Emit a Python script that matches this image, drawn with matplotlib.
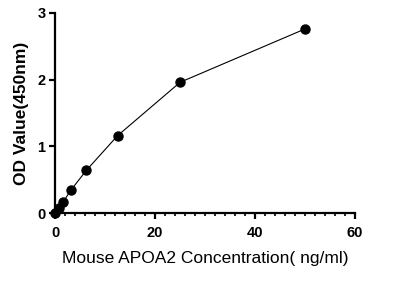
import matplotlib
matplotlib.use("Agg")
import matplotlib.pyplot as plt
from matplotlib.ticker import MultipleLocator

plt.rcParams['font.family'] = ['Liberation Sans', 'Noto Sans CJK SC', 'DejaVu Sans']

conc = [0, 0.78, 1.56, 3.125, 6.25, 12.5, 25, 50]
od = [0.0, 0.08, 0.16, 0.34, 0.64, 1.16, 1.96, 2.76]
x_ticks = [0, 20, 40, 60]
y_ticks = [0, 1, 2, 3]
x_label = "Mouse APOA2 Concentration( ng/ml)"
y_label = "OD Value(450nm)"

fig = plt.figure(figsize=(4.05, 2.86), dpi=100)
ax = fig.add_axes([0.136, 0.255, 0.741, 0.70])
ax.plot(conc, od, color='black', lw=0.8, marker='o', markersize=6.5, clip_on=False, zorder=3)
ax.set_xlim(0, 60)
ax.set_ylim(0, 3)
ax.set_xticks(x_ticks)
ax.set_yticks(y_ticks)
ax.xaxis.set_minor_locator(MultipleLocator(2))
for s in ['top', 'right']:
    ax.spines[s].set_visible(False)
for s in ['left', 'bottom']:
    ax.spines[s].set_linewidth(1.6)
ax.tick_params(axis='both', which='major', width=1.6, length=4, labelsize=10.5)
ax.tick_params(axis='x', which='major', pad=5)
ax.tick_params(axis='y', which='major', pad=3)
ax.tick_params(axis='x', which='minor', width=1.2, length=2.5)
for lbl in ax.get_xticklabels() + ax.get_yticklabels():
    lbl.set_fontweight('bold')
ax.set_xlabel(x_label, fontsize=12.5, labelpad=8)
ax.set_ylabel(y_label, fontsize=12.5, fontweight='bold', labelpad=6)
fig.savefig('out.png', dpi=100)
